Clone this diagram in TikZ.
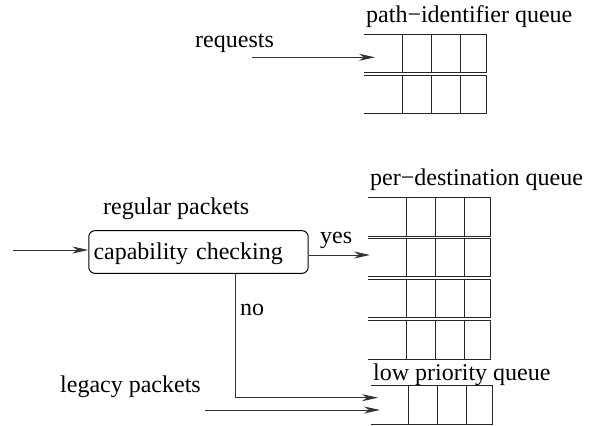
\documentclass[tikz,border=0pt]{standalone}
\usepackage{fontspec}
\setmainfont{LiberationSerif}[Extension=.ttf, UprightFont=*-Regular, BoldFont=*-Bold, ItalicFont=*-Italic, BoldItalicFont=*-BoldItalic]
\usetikzlibrary{arrows.meta}
\begin{document}
\begin{tikzpicture}[x=1pt, y=-1pt,
  every node/.style={font=\rmfamily\fontsize{24}{28}\selectfont, inner sep=0pt},
  lbl/.style={anchor=base west},
  qline/.style={line width=1pt, black!85},
  flow/.style={line width=1pt, black!80, -{Stealth[length=16pt, width=7pt, inset=5pt]}},
  checkbox/.style={draw, line width=1pt, rounded corners=6pt, anchor=west,
    minimum height=42.6pt, text width=210pt, inner xsep=4.7pt, align=left,
    text height=17pt, text depth=3pt}]
\useasboundingbox (0,0) rectangle (598,426);

% path-identifier queue: two rows, open on the left
\foreach \t/\b in {34/72.7, 75.3/113.3} {
  \draw[qline] (364,\t) -- (486.7,\t) -- (486.7,\b) -- (364,\b);
  \foreach \d in {402.7, 431, 460} \draw[qline] (\d,\t) -- (\d,\b);
}
% per-destination queue: four rows
\foreach \t/\b in {197.3/236, 238.3/276.7, 279/317.3, 320/359} {
  \draw[qline] (368,\t) -- (490.7,\t) -- (490.7,\b) -- (368,\b);
  \foreach \d in {406.7, 435.3, 464} \draw[qline] (\d,\t) -- (\d,\b);
}
% low priority queue: one row
\draw[qline] (370.7,385.7) -- (492.3,385.7) -- (492.3,424.3) -- (370.7,424.3);
\foreach \d in {408.7, 437.3, 466} \draw[qline] (\d,385.7) -- (\d,424.3);

% labels
\node[lbl] (lpid) at (366,22) {path−identifier queue};
\node[lbl] (lreq) at (195,47) {requests};
\node[lbl] (lreg) at (103,214) {regular packets};
\node[lbl] (lyes) at (320,243) {yes};
\node[lbl] (lpd) at (370,185) {per−destination queue};
\node[lbl] (lno) at (240,315) {no};
\node[lbl] (llow) at (373,380) {low priority queue};
\node[lbl] (lleg) at (60,392) {legacy packets};

% capability check box
\node[checkbox] (cap) at (88.3,252) {capability checking};

% connector end points
\coordinate (reqin) at (251.7,57.3);
\coordinate (pidq) at (375,57.3);
\coordinate (capin) at (13,250);
\coordinate (pdq) at (370,255);
\coordinate (nox) at (235.7,0);
\coordinate (lowno) at (378,397.7);
\coordinate (legin) at (205,410);
\coordinate (lowleg) at (380,410);

% connectors
\draw[flow] (reqin) -- (pidq);
\draw[flow] (capin) -- (capin -| cap.west);
\draw[flow] (pdq -| cap.east) -- (pdq);
\draw[flow] (cap.south -| nox) |- (lowno);
\draw[flow] (legin) -- (lowleg);
\end{tikzpicture}
\end{document}
